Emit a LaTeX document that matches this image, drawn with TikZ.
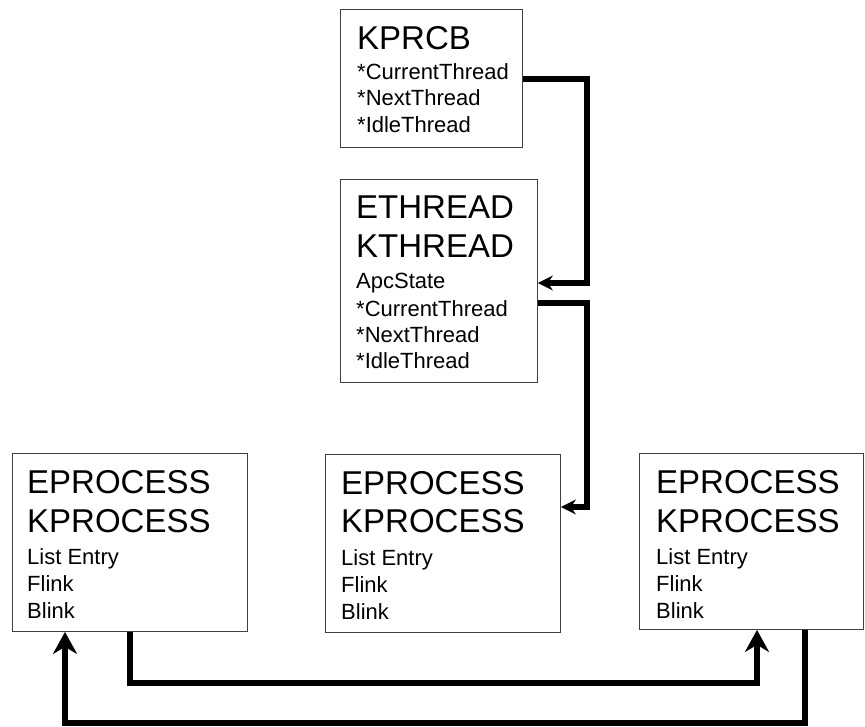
\documentclass[tikz,border=0pt]{standalone}
\usepackage{fontspec}
\setmainfont{Liberation Sans}
\usetikzlibrary{arrows.meta}
\tikzset{
  box/.style={draw=black!75, line width=0.9pt, fill=white, rectangle, inner sep=0pt, anchor=north west},
  ttl/.style={anchor=base west, inner sep=0pt, font=\fontsize{33}{33}\selectfont},
  fld/.style={anchor=base west, inner sep=0pt, font=\fontsize{22}{26}\selectfont},
  conn/.style={line width=5.5pt, line join=miter, draw=black},
  bigtip/.style={-{Stealth[length=22pt,width=24pt,inset=7pt]}},
  smalltip/.style={-{Stealth[length=15pt,width=15pt,inset=5pt]}}
}
\begin{document}
\begin{tikzpicture}[x=1pt,y=-1pt]
\useasboundingbox (0,0) rectangle (865,726);
% boxes
\node[box, minimum width=182pt, minimum height=138pt] (kprcb) at (340,9) {};
\node[box, minimum width=197pt, minimum height=203pt] (ethread) at (340,179) {};
\node[box, minimum width=235pt, minimum height=178pt] (eprocA) at (12,453) {};
\node[box, minimum width=235pt, minimum height=178pt] (eprocB) at (325,454) {};
\node[box, minimum width=224pt, minimum height=176pt] (eprocC) at (639,453) {};
% KPRCB text
\node[ttl] (kt) at (357,49) {KPRCB};
\node[fld] (k1) at (357,79) {*CurrentThread};
\node[fld] (k2) at (357,105) {*NextThread};
\node[fld] (k3) at (357,132) {*IdleThread};
% ETHREAD text
\node[ttl] (et1) at (356,218) {ETHREAD};
\node[ttl] (et2) at (356,257) {KTHREAD};
\node[fld] (e1) at (356,288) {ApcState};
\node[fld] (e2) at (356,316) {*CurrentThread};
\node[fld] (e3) at (356,342) {*NextThread};
\node[fld] (e4) at (356,368) {*IdleThread};
% EPROCESS A
\node[ttl] (at1) at (27,493) {EPROCESS};
\node[ttl] (at2) at (27,532) {KPROCESS};
\node[fld] (a1) at (27,564) {List Entry};
\node[fld] (a2) at (27,591) {Flink};
\node[fld] (a3) at (27,618) {Blink};
% EPROCESS B
\node[ttl] (bt1) at (341,494) {EPROCESS};
\node[ttl] (bt2) at (341,532) {KPROCESS};
\node[fld] (b1t) at (341,565) {List Entry};
\node[fld] (b2t) at (341,592) {Flink};
\node[fld] (b3t) at (341,619) {Blink};
% EPROCESS C
\node[ttl] (ct1) at (656,493) {EPROCESS};
\node[ttl] (ct2) at (656,532) {KPROCESS};
\node[fld] (c1t) at (656,564) {List Entry};
\node[fld] (c2t) at (656,591) {Flink};
\node[fld] (c3t) at (656,618) {Blink};
% bend points
\coordinate (r1) at (587,79);
\coordinate (r2) at (587,283);
\coordinate (r3) at (587,303);
\coordinate (r4) at (587,507);
\coordinate (q1) at (130,683);
\coordinate (q2) at (757,683);
\coordinate (q3) at (805,723);
\coordinate (q4) at (65,723);
% connectors
\draw[conn, smalltip] (kprcb.east |- r1) -- (r1) -- (r2) -- (ethread.east |- r2);
\draw[conn, smalltip] (ethread.east |- r3) -- (r3) -- (r4) -- (eprocB.east |- r4);
\draw[conn, bigtip] (eprocA.south -| q1) -- (q1) -- (q2) -- (eprocC.south -| q2);
\draw[conn, bigtip] (eprocC.south -| q3) -- (q3) -- (q4) -- (eprocA.south -| q4);
\end{tikzpicture}
\end{document}
